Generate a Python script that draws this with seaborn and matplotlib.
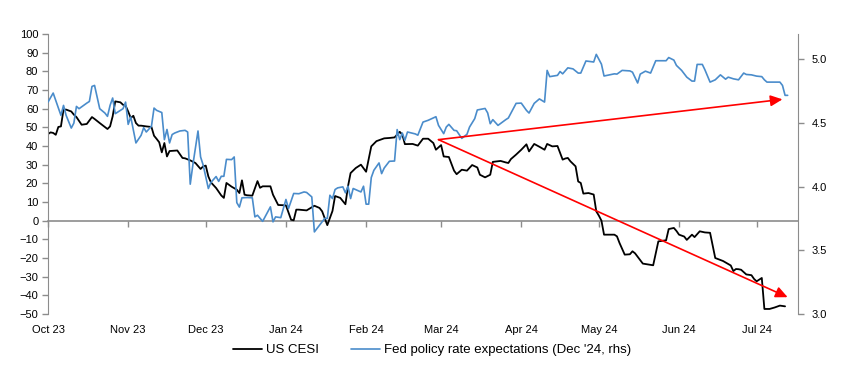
import numpy as np
import pandas as pd
import matplotlib
matplotlib.use("Agg")
import matplotlib.pyplot as plt
import matplotlib.dates as mdates
from matplotlib import font_manager
from matplotlib.patches import ArrowStyle
import seaborn as sns

# ---------------- data ----------------
start_date = "2023-10-01"
end_date = "2024-07-17"

# days since 2023-10-01
cesi_day = [0, 1, 2, 3, 4, 5, 6, 7, 9, 10,
            11, 13, 15, 17, 18, 20, 22, 23, 24, 25,
            26, 28, 29, 30, 31, 32, 33, 34, 35, 36,
            38, 40, 41, 42, 43, 44, 45, 46, 47, 49,
            50, 52, 53, 55, 57, 59, 60, 61, 62, 63,
            65, 67, 68, 69, 71, 73, 74, 75, 76, 77,
            79, 81, 82, 83, 86, 87, 88, 89, 92, 94,
            95, 96, 97, 100, 103, 105, 106, 108, 110, 111,
            113, 115, 116, 117, 119, 121, 123, 125, 127, 130,
            132, 134, 136, 137, 138, 141, 143, 145, 147, 149,
            150, 152, 153, 155, 157, 158, 160, 162, 164, 166,
            167, 169, 171, 172, 175, 177, 178, 179, 181, 183,
            185, 186, 188, 190, 192, 193, 195, 197, 199, 200,
            201, 202, 204, 205, 206, 207, 209, 211, 212, 213,
            214, 215, 219, 220, 221, 223, 225, 226, 227, 230,
            234, 236, 239, 240, 242, 243, 244, 246, 247, 249,
            250, 252, 254, 256, 258, 261, 264, 265, 266, 267,
            268, 270, 272, 273, 274, 276, 277, 279, 281, 283,
            285]
cesi_val = [46.4, 47.3, 47.0, 46.0, 50.2, 50.5, 59.5, 59.5, 58.5, 56.8,
            55.5, 51.4, 51.8, 55.5, 54.5, 52.3, 50.2, 49.1, 50.5, 55.9,
            63.9, 63.4, 62.1, 61.6, 58.5, 55.0, 56.2, 52.3, 50.9, 50.9,
            50.5, 50.2, 45.5, 43.8, 42.0, 36.6, 41.6, 34.4, 37.3, 37.5,
            37.6, 33.6, 33.4, 32.3, 30.9, 27.7, 29.1, 29.5, 23.7, 20.5,
            17.5, 13.5, 12.2, 20.2, 18.2, 16.6, 14.8, 21.6, 13.9, 13.6,
            13.4, 21.2, 17.6, 18.4, 18.4, 13.9, 11.2, 8.4, 8.2, 0.5,
            0.2, 5.9, 5.9, 5.5, 8.0, 6.8, 5.0, -2.4, 5.2, 13.2,
            12.2, 8.8, 18.4, 25.5, 28.2, 30.0, 26.2, 39.8, 42.6, 44.1,
            44.3, 44.6, 47.6, 46.1, 41.0, 41.1, 40.2, 43.9, 43.9, 41.6,
            38.0, 40.5, 34.4, 34.1, 26.8, 24.9, 27.3, 26.8, 29.8, 28.5,
            24.6, 23.2, 24.6, 31.5, 32.0, 31.2, 30.9, 33.0, 35.4, 38.0,
            40.9, 37.1, 41.1, 39.6, 38.0, 41.1, 39.8, 40.0, 32.7, 33.3,
            33.6, 31.8, 29.1, 21.0, 20.2, 14.5, 14.8, 14.0, 5.0, 2.7,
            0.0, -7.5, -7.5, -8.4, -12.0, -18.2, -18.0, -16.4, -17.5, -23.0,
            -23.9, -11.1, -10.5, -4.5, -3.9, -5.5, -7.5, -8.5, -10.3, -7.5,
            -8.8, -5.7, -6.3, -6.5, -20.0, -21.6, -24.0, -27.0, -25.9, -26.0,
            -26.3, -28.8, -29.2, -31.2, -32.5, -30.7, -47.3, -47.3, -46.5, -45.5,
            -45.9]

fed_day = [0, 2, 4, 5, 6, 7, 9, 10, 11, 12,
           15, 16, 17, 18, 20, 22, 23, 24, 25, 26,
           27, 29, 30, 31, 32, 34, 36, 37, 38, 40,
           41, 42, 44, 45, 46, 47, 48, 49, 50, 51,
           53, 54, 55, 56, 58, 59, 60, 62, 63, 65,
           66, 67, 68, 69, 71, 72, 73, 74, 75, 77,
           79, 80, 81, 83, 86, 87, 88, 90, 92, 93,
           95, 97, 99, 100, 102, 103, 105, 107, 108, 109,
           110, 111, 112, 114, 115, 116, 117, 118, 121, 122,
           123, 124, 125, 126, 128, 129, 130, 132, 134, 135,
           136, 137, 138, 139, 142, 143, 145, 147, 150, 151,
           153, 154, 155, 157, 158, 160, 162, 163, 165, 166,
           169, 170, 171, 172, 174, 177, 178, 181, 183, 185,
           186, 188, 190, 192, 193, 194, 197, 198, 199, 201,
           203, 205, 206, 208, 211, 212, 214, 215, 219, 220,
           222, 225, 226, 228, 229, 231, 233, 235, 239, 240,
           242, 243, 245, 247, 249, 250, 251, 253, 254, 256,
           258, 260, 262, 263, 265, 267, 269, 270, 272, 274,
           276, 277, 278, 283, 284, 285, 286]
fed_val = [4.665, 4.736, 4.621, 4.561, 4.639, 4.561, 4.461, 4.500, 4.631, 4.613,
           4.657, 4.670, 4.788, 4.796, 4.613, 4.579, 4.553, 4.639, 4.697, 4.574,
           4.587, 4.613, 4.665, 4.490, 4.548, 4.344, 4.404, 4.464, 4.430, 4.475,
           4.618, 4.600, 4.583, 4.370, 4.450, 4.344, 4.410, 4.422, 4.430, 4.438,
           4.443, 4.430, 4.020, 4.170, 4.438, 4.234, 4.170, 3.986, 4.034, 4.080,
           4.042, 4.082, 4.082, 4.215, 4.213, 4.234, 3.875, 3.840, 3.913, 3.915,
           3.913, 3.763, 3.776, 3.728, 3.842, 3.724, 3.763, 3.757, 3.900, 3.829,
           3.947, 3.945, 3.959, 3.955, 3.920, 3.645, 3.698, 3.751, 3.751, 3.933,
           3.907, 3.978, 3.991, 3.999, 3.952, 4.004, 3.907, 3.986, 3.959, 4.004,
           3.863, 3.863, 4.072, 4.129, 4.187, 4.103, 4.147, 4.200, 4.202, 4.449,
           4.370, 4.422, 4.365, 4.430, 4.415, 4.405, 4.508, 4.522, 4.550, 4.482,
           4.417, 4.469, 4.490, 4.443, 4.440, 4.380, 4.412, 4.469, 4.535, 4.603,
           4.615, 4.580, 4.495, 4.527, 4.482, 4.527, 4.540, 4.655, 4.657, 4.600,
           4.579, 4.655, 4.690, 4.665, 4.914, 4.865, 4.875, 4.905, 4.887, 4.934,
           4.926, 4.893, 4.893, 4.988, 4.980, 5.040, 4.963, 4.870, 4.887, 4.885,
           4.914, 4.910, 4.900, 4.815, 4.885, 4.908, 4.893, 4.990, 4.990, 5.015,
           4.995, 4.953, 4.914, 4.861, 4.830, 4.830, 4.961, 4.961, 4.919, 4.822,
           4.840, 4.879, 4.845, 4.861, 4.848, 4.840, 4.893, 4.882, 4.879, 4.869,
           4.865, 4.840, 4.822, 4.822, 4.796, 4.718, 4.718]

# red trend arrows (start shared), in days / left-axis units
arrow_from_day = 151
arrow_from_val = 43.4
arrow_to_days = [284, 286]
arrow_to_vals = [65.0, -41.0]

left_ticks = list(range(-50, 101, 10))
right_ticks = [3.0, 3.5, 4.0, 4.5, 5.0]
series_labels = ["US CESI", "Fed policy rate expectations (Dec '24, rhs)"]

# ---------------- styling ----------------
sns.set_style("white")
names = {f.name for f in font_manager.fontManager.ttflist}
if "Liberation Sans Narrow" in names:
    fam = ["Liberation Sans Narrow", "DejaVu Sans"]
    tick_fs, leg_fs = 9.3, 11.0
else:
    fam = ["Liberation Sans", "DejaVu Sans"]
    tick_fs, leg_fs = 8.0, 9.5
plt.rcParams["font.family"] = fam
plt.rcParams["text.color"] = "black"

spine_c = "#8c8c8c"
blue = "#4A8CCB"

t0 = pd.Timestamp(start_date)
cesi = pd.DataFrame({"date": t0 + pd.to_timedelta(cesi_day, unit="D"), "value": cesi_val})
fed = pd.DataFrame({"date": t0 + pd.to_timedelta(fed_day, unit="D"), "value": fed_val})

fig = plt.figure(figsize=(8.52, 3.73), dpi=100)
ax = fig.add_axes([48 / 852, 59 / 373, 750 / 852, 280 / 373])
ax2 = ax.twinx()

sns.lineplot(data=cesi, x="date", y="value", ax=ax, color="black", lw=1.3, legend=False)
sns.lineplot(data=fed, x="date", y="value", ax=ax2, color=blue, lw=1.2, legend=False)

ax.set_xlim(t0, pd.Timestamp(end_date))
ax.set_ylim(-50, 100)
ax.set_yticks(left_ticks)
ax2.set_ylim(3.0, 5.2)
ax2.set_yticks(right_ticks)
ax2.yaxis.set_major_formatter(matplotlib.ticker.FormatStrFormatter("%.1f"))

for a in (ax, ax2):
    a.set_xlabel("")
    a.set_ylabel("")
    for s in a.spines.values():
        s.set_visible(False)
ax.spines["left"].set_visible(True)
ax.spines["left"].set_color(spine_c)
ax2.spines["right"].set_visible(True)
ax2.spines["right"].set_color(spine_c)

ax.tick_params(axis="y", left=True, direction="out", length=4, width=1, color=spine_c,
               labelsize=tick_fs, labelcolor="black", pad=3)
ax2.tick_params(axis="y", right=True, direction="out", length=4, width=1, color=spine_c,
                labelsize=tick_fs, labelcolor="black", pad=6)
ax.xaxis.set_major_locator(mdates.MonthLocator())
ax.xaxis.set_major_formatter(mdates.DateFormatter("%b %y"))
ax.tick_params(axis="x", bottom=False, length=0, labelsize=tick_fs, labelcolor="black", pad=8)

# horizontal axis line crossing at zero, with tick marks
sec = ax.secondary_xaxis(50 / 150)
sec.xaxis.set_major_locator(mdates.MonthLocator())
sec.tick_params(axis="x", direction="out", length=4, width=1, color=spine_c,
                labelbottom=False, labeltop=False)
sec.spines["bottom"].set_color(spine_c)
sec.spines["bottom"].set_linewidth(1.2)

# red arrows
x_from = mdates.date2num(t0 + pd.Timedelta(days=arrow_from_day))
astyle = ArrowStyle("-|>", head_length=0.65, head_width=0.3)
for d, v in zip(arrow_to_days, arrow_to_vals):
    x_to = mdates.date2num(t0 + pd.Timedelta(days=d))
    ax2.annotate("", xy=(x_to, v), xytext=(x_from, arrow_from_val),
                 xycoords=ax.transData, textcoords=ax.transData,
                 arrowprops=dict(arrowstyle=astyle, color="#FF0000", lw=1.2,
                                 mutation_scale=11, shrinkA=0, shrinkB=0))

h1 = ax.get_lines()[0]
h2 = ax2.get_lines()[0]
fig.legend([h1, h2], series_labels, loc="center", bbox_to_anchor=(432 / 852, 1 - 350 / 373),
           ncol=2, frameon=False, fontsize=leg_fs, handlelength=2.2, handletextpad=0.3,
           columnspacing=2.4)

fig.savefig("out.png", dpi=100)
